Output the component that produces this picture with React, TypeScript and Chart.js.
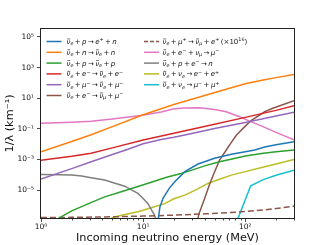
import React, { useEffect, useRef } from 'react';
import { Chart, registerables } from 'chart.js';

Chart.register(...registerables);

// ---- data (energy in MeV, inverse mean free path in km^-1) ----
const blueE = [14, 14.6, 15.7, 18, 20.4, 25.6, 34.5, 50, 73, 100, 124, 155, 200, 300];
const blueV = [1e-7, 8e-7, 3e-6, 1.3e-5, 3.5e-5, 1.6e-4, 5e-4, 1.2e-3, 2.2e-3, 3.2e-3, 4.2e-3, 6.5e-3, 9e-3, 1.45e-2];

const orangeE = [1, 2, 3.1, 5, 10, 20, 41.6, 70, 100, 150, 200, 300];
const orangeV = [3.2e-3, 1.5e-2, 4.1e-2, 0.14, 0.83, 3.9, 16, 45, 89, 155, 220, 350];

const greenE = [1.3, 1.5, 2, 3, 4.2, 6, 8.9, 12, 17, 24, 30, 40, 56, 80, 100, 150, 200, 300];
const greenV = [3e-8, 1.5e-7, 4.4e-7, 1.4e-6, 3.6e-6, 7.5e-6, 1.7e-5, 3.2e-5, 6.8e-5, 1.26e-4, 2e-4, 3.8e-4, 7.1e-4, 1.2e-3, 1.66e-3, 2.5e-3, 3.2e-3, 4.1e-3];

const redE = [1, 2, 3.1, 5, 10, 20, 50, 100, 200, 300];
const redV = [9e-4, 1.6e-3, 2.5e-3, 5.7e-3, 1.86e-2, 5.2e-2, 0.2, 0.56, 1.6, 3.2];

const purpleE = [1, 2, 3, 5, 7, 10, 15, 20, 30, 50, 100, 200, 300];
const purpleV = [5.2e-5, 2.5e-4, 6.5e-4, 2.1e-3, 4.5e-3, 1.05e-2, 2e-2, 2.8e-2, 4.9e-2, 0.105, 0.26, 0.68, 1.2];

const brownE = [34.4, 35, 40, 45, 50, 56, 65, 70, 82, 100, 115, 155, 186, 300];
const brownV = [1.3e-7, 2.5e-7, 2.8e-6, 2.7e-5, 1.5e-4, 9e-4, 4e-3, 8.7e-3, 3.9e-2, 0.15, 0.36, 1.3, 2.2, 6.8];

const dashedE = [1, 2, 5, 10, 20, 40, 85, 150, 200, 300];
const dashedV = [1.6e-7, 1.65e-7, 1.8e-7, 2e-7, 2.3e-7, 2.8e-7, 3.6e-7, 5e-7, 6.2e-7, 8.9e-7];

const pinkE = [1, 2, 3.1, 5, 9.5, 15, 19.7, 25, 35.8, 50, 65, 88, 110, 149, 200, 300];
const pinkV = [0.23, 0.27, 0.31, 0.44, 0.73, 1.26, 1.95, 2.3, 2.4, 1.85, 1.3, 0.62, 0.32, 0.14, 0.059, 0.019];

const greyE = [1, 1.5, 2, 2.5, 3, 4.2, 5.5, 6.6, 8, 8.9, 10, 11.1, 12, 12.9, 13.3, 13.5];
const greyV = [1.05e-4, 1e-4, 9.5e-5, 8.3e-5, 6.6e-5, 4.5e-5, 2.6e-5, 1.8e-5, 8.9e-6, 6e-6, 2.8e-6, 1.35e-6, 5.5e-7, 2.3e-7, 1.3e-7, 1e-8];

const oliveE = [4.5, 5, 6, 8.9, 12, 16.3, 20, 25.6, 34, 43, 55, 73, 100, 155, 200, 300];
const oliveV = [1e-7, 1.6e-7, 2.2e-7, 3.8e-7, 7e-7, 1.3e-6, 2.7e-6, 4.7e-6, 1.15e-5, 2.7e-5, 4.9e-5, 9.5e-5, 1.6e-4, 3.3e-4, 5.1e-4, 1e-3];

const cyanE = [84.5, 113, 150, 200, 300];
const cyanV = [1.3e-7, 1.9e-5, 4.8e-5, 9.3e-5, 2e-4];

const seriesLabels = [
  'ν̄_e + p → e^+ + n',
  'ν̄_e + n → ν̄_e + n',
  'ν̄_e + p → ν̄_e + p',
  'ν̄_e + e^− → ν̄_e + e^−',
  'ν̄_e + μ^− → ν̄_e + μ^−',
  'ν̄_e + e^− → ν̄_μ + μ^−',
  'ν̄_e + μ^+ → ν̄_μ + e^+ (×10^{16})',
  'ν̄_e + e^− + ν_μ → μ^−',
  'ν̄_e + p + e^− → n',
  'ν̄_e + ν_e → e^− + e^+',
  'ν̄_e + ν_e → μ^− + μ^+',
];
const seriesColors = ['#1f77b4', '#ff7f0e', '#2ca02c', '#d62728', '#9467bd', '#8c564b', '#8c564b', '#e377c2', '#7f7f7f', '#bcbd22', '#17becf'];

const xTickValues = [1, 10, 100];
const yTickValues = [1e-5, 1e-3, 1e-1, 1e1, 1e3, 1e5];

const xTitle = 'Incoming neutrino energy (MeV)';
const yTitle = '1/λ (km⁻¹)';

const SUP: Record<string, string> = { '0': '⁰', '1': '¹', '2': '²', '3': '³', '4': '⁴', '5': '⁵', '6': '⁶', '7': '⁷', '8': '⁸', '9': '⁹', '-': '⁻' };
const powLabel = (v: number) => '10' + String(Math.round(Math.log10(v))).split('').map((c) => SUP[c] || c).join('');

const FONT = "'DejaVu Sans', sans-serif";

type Seg = { t: string; mode: 'n' | 'sub' | 'sup' };
function parseMath(s: string): Seg[] {
  const out: Seg[] = [];
  let i = 0;
  while (i < s.length) {
    const c = s[i];
    if (c === '_' || c === '^') {
      const mode = c === '_' ? 'sub' : 'sup';
      i++;
      let t = '';
      if (s[i] === '{') {
        i++;
        while (i < s.length && s[i] !== '}') t += s[i++];
        i++;
      } else {
        t = s[i++];
      }
      out.push({ t, mode });
    } else {
      let t = c;
      i++;
      if (s[i] === '\u0304') t += s[i++];
      out.push({ t, mode: 'n' });
    }
  }
  return out;
}

function drawMath(ctx: CanvasRenderingContext2D, s: string, x: number, y: number, size: number) {
  const segs = parseMath(s);
  let cx = x;
  ctx.textBaseline = 'alphabetic';
  ctx.textAlign = 'left';
  for (const seg of segs) {
    for (const ch of seg.mode === 'n' ? [seg.t] : Array.from(seg.t)) {
      if (ch === ' ') {
        cx += size * 0.2;
        continue;
      }
      const isLetter = /[a-zA-Zα-ω]/.test(ch[0]);
      const fs = seg.mode === 'n' ? size : size * 0.7;
      const dy = seg.mode === 'sub' ? size * 0.2 : seg.mode === 'sup' ? -size * 0.38 : 0;
      ctx.font = `${isLetter ? 'italic ' : ''}${fs}px ${FONT}`;
      const base = ch[0];
      ctx.fillText(base, cx, y + dy);
      const w = ctx.measureText(base).width;
      if (ch.length > 1) {
        // macron over the letter
        ctx.save();
        ctx.lineWidth = 0.6;
        ctx.strokeStyle = ctx.fillStyle as string;
        ctx.beginPath();
        const my = y + dy - fs * 0.72;
        ctx.moveTo(cx + w * 0.2, my);
        ctx.lineTo(cx + w * 0.95, my);
        ctx.stroke();
        ctx.restore();
      }
      cx += w;
    }
  }
}

const framePlugin = {
  id: 'frameAndLegend',
  afterDatasetsDraw(chart: any) {
    const { ctx, chartArea, scales } = chart;
    const { left, right, top, bottom } = chartArea;
    ctx.save();
    // frame
    ctx.strokeStyle = '#222';
    ctx.lineWidth = 1;
    ctx.strokeRect(left - 0.5, top - 0.5, right - left + 1, bottom - top + 1);
    // minor x ticks
    const xs = scales.x;
    ctx.beginPath();
    for (const d of [1, 10, 100]) {
      for (let k = 2; k <= 9; k++) {
        const v = k * d;
        if (v > 300) continue;
        const px = Math.round(xs.getPixelForValue(v)) + 0.5;
        ctx.moveTo(px, bottom);
        ctx.lineTo(px, bottom + 2.5);
      }
    }
    ctx.lineWidth = 0.8;
    ctx.stroke();
    // legend
    const size = 7;
    const rowH = 10.8;
    const y0 = 41.5;
    seriesLabels.forEach((lab, i) => {
      const col = i < 6 ? 0 : 1;
      const row = col === 0 ? i : i - 6;
      const hx = col === 0 ? 46.5 : 144;
      const tx = col === 0 ? 66.5 : 162.5;
      const y = y0 + row * rowH;
      ctx.save();
      ctx.strokeStyle = seriesColors[i];
      ctx.lineWidth = 1.5;
      if (i === 6) ctx.setLineDash([4, 2]);
      ctx.beginPath();
      ctx.moveTo(hx, y);
      ctx.lineTo(hx + 15, y);
      ctx.stroke();
      ctx.restore();
      ctx.fillStyle = '#111';
      drawMath(ctx, lab, tx, y + 2.5, size);
    });
    ctx.restore();
  },
};

const pts = (E: number[], V: number[]) => E.map((e, i) => ({ x: e, y: V[i] }));

export default function App() {
  const ref = useRef<HTMLCanvasElement>(null);
  useEffect(() => {
    const seriesData = [
      pts(blueE, blueV),
      pts(orangeE, orangeV),
      pts(greenE, greenV),
      pts(redE, redV),
      pts(purpleE, purpleV),
      pts(brownE, brownV),
      pts(dashedE, dashedV),
      pts(pinkE, pinkV),
      pts(greyE, greyV),
      pts(oliveE, oliveV),
      pts(cyanE, cyanV),
    ];
    const datasets = seriesData.map((d, i) => ({
      label: seriesLabels[i],
      data: d,
      borderColor: seriesColors[i],
      backgroundColor: seriesColors[i],
      borderWidth: 1.5,
      borderDash: i === 6 ? [6, 3] : [],
      pointRadius: 0,
      tension: 0,
      fill: false,
    }));
    const tickFont = { family: FONT, size: 7.5 };
    const chart = new Chart(ref.current as HTMLCanvasElement, {
      type: 'line',
      data: { datasets },
      options: {
        responsive: false,
        animation: false,
        layout: { padding: { top: 29, right: 33, left: 0, bottom: 0 } },
        plugins: { legend: { display: false }, tooltip: { enabled: false } },
        scales: {
          x: {
            type: 'logarithmic',
            min: 1,
            max: 300,
            afterBuildTicks: (s: any) => {
              s.ticks = xTickValues.map((v) => ({ value: v }));
            },
            afterFit: (s: any) => {
              s.height = 27;
            },
            ticks: {
              callback: (v: any) => powLabel(Number(v)),
              font: tickFont,
              color: '#111',
              padding: 1,
              maxRotation: 0,
              autoSkip: false,
            },
            grid: { drawOnChartArea: false, tickLength: 4, color: '#222', lineWidth: 0.8 },
            border: { display: false },
            title: { display: true, text: xTitle, font: { family: FONT, size: 11.3 }, color: '#111', padding: 0 },
          },
          y: {
            type: 'logarithmic',
            min: 1.5e-7,
            max: 3.3e5,
            afterBuildTicks: (s: any) => {
              s.ticks = yTickValues.map((v) => ({ value: v }));
            },
            afterFit: (s: any) => {
              s.width = 41;
            },
            ticks: {
              callback: (v: any) => powLabel(Number(v)),
              font: tickFont,
              color: '#111',
              padding: 3,
              autoSkip: false,
            },
            grid: { drawOnChartArea: false, tickLength: 4, color: '#222', lineWidth: 0.8 },
            border: { display: false },
            title: { display: true, text: yTitle, font: { family: FONT, size: 11.3 }, color: '#111', padding: { top: 3, bottom: 0 } },
          },
        },
      } as any,
      plugins: [framePlugin],
    });
    return () => chart.destroy();
  }, []);
  return (
    <canvas
      ref={ref}
      width={327}
      height={245}
      style={{ position: 'fixed', left: 0, top: 0, width: 327, height: 245, background: '#fff' }}
    />
  );
}
